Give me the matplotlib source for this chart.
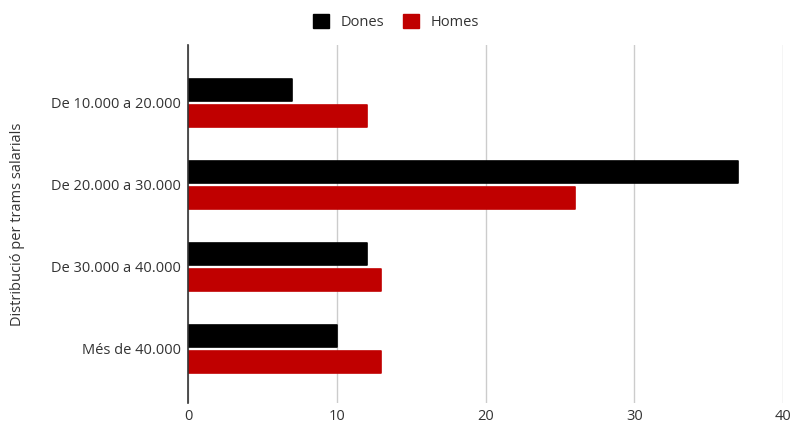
import numpy as np
import matplotlib.pyplot as plt
from matplotlib.patches import Patch

plt.rcParams['font.family'] = ['Open Sans', 'DejaVu Sans']

# trams salarials i recompte per sexe
categories = ["De 10.000 a 20.000", "De 20.000 a 30.000", "De 30.000 a 40.000", "Més de 40.000"]
dones = [7, 37, 12, 10]
homes = [12, 26, 13, 13]
series_names = ["Dones", "Homes"]
x_ticks = [0, 10, 20, 30, 40]

colors = ["#000000", "#c00000"]
text_color = "#333333"

fig = plt.figure(figsize=(7.91, 4.25), dpi=100)
ax = fig.add_axes([188 / 791, 1 - 403 / 425, (783 - 188) / 791, (403 - 45) / 425])

y = np.arange(len(categories))
bar_h = 0.27
off = 0.16
for vals, sign, col in [(dones, -1, colors[0]), (homes, 1, colors[1])]:
    ax.barh(y + sign * off, vals, height=bar_h, color=col, edgecolor=col,
            linewidth=1.2, joinstyle='round', zorder=3)

ax.set_xlim(0, 40)
ax.set_ylim(3 + 54 / 82, -58 / 82)
ax.set_xticks(x_ticks)
ax.set_xticklabels([str(t) for t in x_ticks])
ax.set_yticks(y)
ax.set_yticklabels(categories)
ax.tick_params(axis='both', length=0, labelsize=10.5, colors=text_color)
ax.tick_params(axis='y', pad=5)
ax.tick_params(axis='x', pad=4.5)

ax.grid(axis='x', color='#cccccc', linewidth=1, zorder=0)
for s in ['top', 'right', 'bottom']:
    ax.spines[s].set_visible(False)
ax.spines['left'].set_color('#333333')
ax.spines['left'].set_linewidth(1.2)
ax.spines['left'].set_zorder(4)

ax.set_ylabel("Distribució per trams salarials", fontsize=10.5, color=text_color)
ax.yaxis.set_label_coords((25 - 188) / 595, 0.5)

handles = [Patch(facecolor=c, edgecolor=c, joinstyle='round') for c in colors]
fig.legend(handles, series_names, loc='center', bbox_to_anchor=(396 / 791, 1 - 22 / 425),
           ncol=2, frameon=False, fontsize=10.5, handlelength=1.1, handleheight=1.1,
           columnspacing=1.3, handletextpad=0.8, labelcolor=text_color)

fig.savefig("out.png", dpi=100)
